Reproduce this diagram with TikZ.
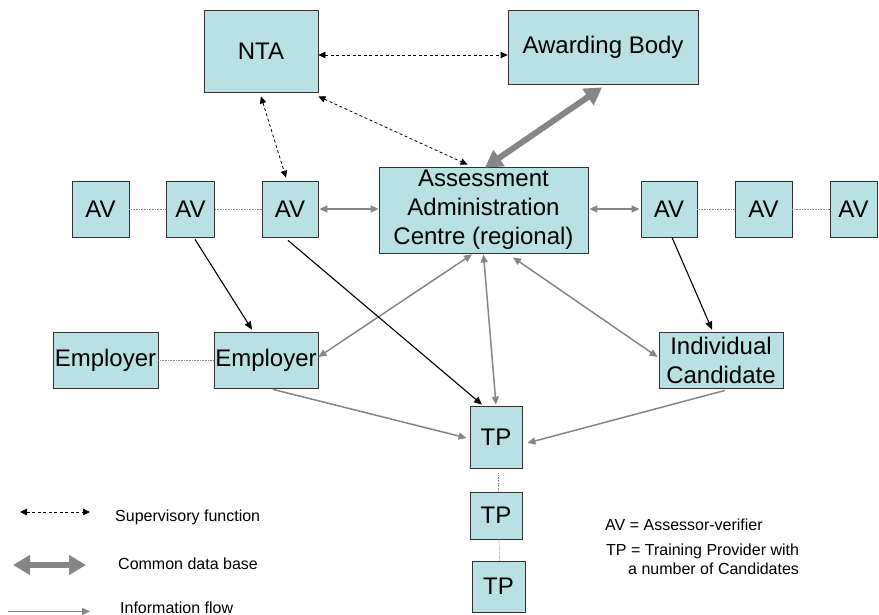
\documentclass[tikz,border=0pt]{standalone}
\usepackage{fontspec}
\setmainfont{Liberation Sans}
\usetikzlibrary{arrows.meta}
\definecolor{boxfill}{RGB}{185,224,226}
\definecolor{flowgray}{RGB}{134,134,134}
\definecolor{boxline}{RGB}{50,50,50}
\begin{document}
\begin{tikzpicture}[x=1pt,y=-1pt,
  box/.style={draw=boxline, line width=0.8pt, fill=boxfill, inner sep=0pt,
    font=\fontsize{24}{29}\selectfont, align=center},
  sup/.style={black, line width=0.8pt, dash pattern=on 3pt off 2.5pt,
    {Triangle[length=7pt,width=6.5pt]}-{Triangle[length=7pt,width=6.5pt]}},
  cdb/.style={draw=flowgray, line width=6pt,
    {Triangle[length=17pt,width=19pt]}-{Triangle[length=17pt,width=19pt]}},
  flow/.style={draw=flowgray, line width=1.5pt, -{Triangle[length=8pt,width=7pt]}},
  flowtwo/.style={draw=flowgray, line width=1.5pt,
    {Triangle[length=8pt,width=7pt]}-{Triangle[length=8pt,width=7pt]}},
  ctrl/.style={draw=black, line width=1.1pt, -{Triangle[length=8pt,width=7pt]}},
  link/.style={draw=flowgray, line width=0.7pt, dash pattern=on 0.8pt off 0.8pt},
  leg/.style={font=\fontsize{16}{19}\selectfont, inner sep=0pt}]
\useasboundingbox (0,0) rectangle (879,615);

% boxes
\node[box, minimum width=114pt, minimum height=82pt] (NTA) at (261,51) {NTA};
\node[box, minimum width=190pt, minimum height=74pt] (AB) at (603,47) {Awarding Body};
\node[box, minimum width=209pt, minimum height=86pt] (AAC) at (483.5,210) {Assessment\\Administration\\Centre (regional)};
\node[box, minimum width=57pt, minimum height=56pt] (AV1) at (100.5,209) {AV};
\node[box, minimum width=48pt, minimum height=56pt] (AV2) at (190.5,209) {AV};
\node[box, minimum width=56pt, minimum height=56pt] (AV3) at (290,209) {AV};
\node[box, minimum width=56pt, minimum height=56pt] (AV4) at (669,209) {AV};
\node[box, minimum width=57pt, minimum height=56pt] (AV5) at (763.5,209) {AV};
\node[box, minimum width=47pt, minimum height=56pt] (AV6) at (853.5,209) {AV};
\node[box, minimum width=105pt, minimum height=56pt] (E1) at (105.5,360) {Employer};
\node[box, minimum width=104pt, minimum height=56pt] (E2) at (266,360) {Employer};
\node[box, minimum width=124pt, minimum height=56pt] (IC) at (721,360) {Individual\\Candidate};
\node[box, minimum width=52pt, minimum height=62pt] (TP1) at (496,437) {TP};
\node[box, minimum width=52pt, minimum height=47pt] (TP2) at (496,515.5) {TP};
\node[box, minimum width=53pt, minimum height=51pt] (TP3) at (498.5,586.5) {TP};

% dotted links
\draw[link] (AV1.east) -- (AV2.west);
\draw[link] (AV2.east) -- (AV3.west);
\draw[link] (AV4.east) -- (AV5.west);
\draw[link] (AV5.east) -- (AV6.west);
\draw[link] (E1.east) -- (E2.west);
\draw[link] ([xshift=2pt,yshift=-5pt]TP1.south) -- ([xshift=2pt]TP2.north);
\draw[link] ([xshift=3pt]TP2.south) -- ([xshift=1pt]TP3.north);

% supervisory
\draw[sup] ([yshift=-4pt]NTA.east) -- ([yshift=-8pt]AB.west);
\draw[sup] ([yshift=-4pt]NTA.south east) -- ([xshift=-16pt,yshift=2pt]AAC.north);
\draw[sup] ([yshift=-4pt]NTA.south) -- ([xshift=-4pt,yshift=3pt]AV3.north);

% common data base
\draw[cdb] ([xshift=-1pt,yshift=-3pt]AB.south) -- ([xshift=1.5pt,yshift=-1pt]AAC.north);

% information flow
\draw[flowtwo] ([xshift=1pt]AV3.east) -- (AAC.west |- AV3.east);
\draw[flowtwo] ([xshift=1pt]AAC.east |- AV4.west) -- ([xshift=-1pt]AV4.west);
\draw[flowtwo] ([yshift=3pt]E2.east) -- ([xshift=-11.5pt,yshift=-1pt]AAC.south);
\draw[flowtwo] ([yshift=-1pt]AAC.south) -- ([yshift=1pt]TP1.north);
\draw[flowtwo] ([xshift=29.5pt,yshift=-4pt]AAC.south) -- ([xshift=-1pt,yshift=3pt]IC.west);
\draw[flow] ([xshift=7pt,yshift=-1pt]E2.south) -- ([xshift=-3pt,yshift=-1pt]TP1.west);
\draw[flow] ([xshift=4pt,yshift=-2pt]IC.south) -- ([xshift=5pt,yshift=-6pt]TP1.east);

% AV control arrows
\draw[ctrl] ([xshift=4.5pt,yshift=-2pt]AV2.south) -- ([xshift=-14pt,yshift=2pt]E2.north);
\draw[ctrl] ([xshift=-2pt,yshift=-3pt]AV3.south) -- ([xshift=-14pt,yshift=1pt]TP1.north);
\draw[ctrl] ([xshift=3pt]AV4.south) -- ([xshift=-9pt,yshift=2pt]IC.north);

% legend
\coordinate (s1) at (20,512);
\coordinate (s2) at (90,512);
\coordinate (c1) at (13,565);
\coordinate (c2) at (86,565);
\coordinate (f1) at (8,611.5);
\coordinate (f2) at (90,611.5);
\draw[sup] (s1) -- (s2);
\draw[cdb] (c1) -- (c2);
\draw[flow] (f1) -- (f2);
\node[leg, anchor=base west] (t1) at (115,521) {Supervisory function};
\node[leg, anchor=base west] (t2) at (118,569.5) {Common data base};
\node[leg, anchor=base west] (t3) at (120,613) {Information flow};
\node[leg, anchor=base west] (t4) at (605,530) {AV = Assessor-verifier};
\node[leg, anchor=base west] (t5) at (606,555.5) {TP = Training Provider with};
\node[leg, anchor=base west] (t6) at (628,574) {a number of Candidates};
\end{tikzpicture}
\end{document}
